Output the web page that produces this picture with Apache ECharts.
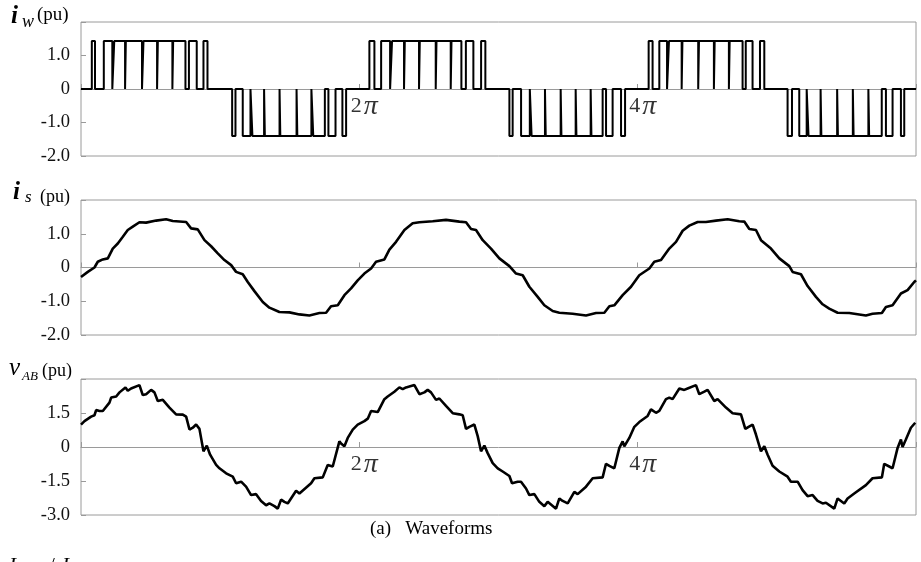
<!DOCTYPE html>
<html><head><meta charset="utf-8">
<script src="https://cdn.jsdelivr.net/npm/echarts@6/dist/echarts.min.js"></script>
<style>html,body{margin:0;padding:0;background:#fff;overflow:hidden}#c{width:921px;height:562px}</style>
</head><body><div id="c"></div>
<script>
// x in electrical degrees (0 .. 6π = 1080°)
const xTickLabels = [[360, '2'], [720, '4']];
const yLabelsCurrent = { '-2': '-2.0', '-1': '-1.0', '0': '0', '1': '1.0', '2': '' };
const yLabelsVoltage = { '-3': '-3.0', '-1.5': '-1.5', '0': '0', '1.5': '1.5', '3': '' };

// i_w : PWM current, [angle°, level from this angle on]
const iwData = [
  [0,0],[14.0,1.43],[18.1,0],[29.5,1.43],[40.5,0],[43.0,1.43],[57.0,0],[58.0,1.43],[78.9,0],[80.8,1.43],[98.4,0],[99.4,1.43],[118.2,0],[119.2,1.43],[135.1,0],[139.6,1.43],[149.7,0],[158.4,1.43],[163.6,0],
  [195.5,-1.4],[199.8,0],[209.2,-1.4],[219.2,0],[221.7,-1.4],[236.8,0],[237.8,-1.4],[256.8,0],[257.8,-1.4],[278.8,0],[279.8,-1.4],[298.0,0],[300.4,-1.4],[315.4,0],[320.0,-1.4],[329.2,0],[338.1,-1.4],[342.9,0],
  [373.0,1.43],[379.5,0],[388.2,1.43],[399.8,0],[402.3,1.43],[417.8,0],[418.8,1.43],[437.2,0],[438.2,1.43],[458.8,0],[459.8,1.43],[478.2,0],[479.2,1.43],[492.0,0],[497.8,1.43],[507.5,0],[517.5,1.43],[523.0,0],
  [554.1,-1.4],[558.3,0],[569.2,-1.4],[580.5,0],[582.8,-1.4],[600.1,0],[601.1,-1.4],[620.4,0],[621.4,-1.4],[639.8,0],[640.8,-1.4],[659.2,0],[660.2,-1.4],[674.7,0],[679.1,-1.4],[687.6,0],[698.5,-1.4],[703.7,0],
  [734.2,1.43],[739.3,0],[748.0,1.43],[758.0,0],[760.5,1.43],[776.9,0],[777.9,1.43],[798.3,0],[799.3,1.43],[818.6,0],[819.6,1.43],[838.0,0],[839.0,1.43],[855.7,0],[859.8,1.43],[868.6,0],[878.2,1.43],[883.8,0],
  [913.9,-1.4],[919.6,0],[929.0,-1.4],[938.6,0],[941.0,-1.4],[956.6,0],[957.6,-1.4],[978.0,0],[979.0,-1.4],[998.3,0],[999.3,-1.4],[1018.4,0],[1019.4,-1.4],[1035.7,0],[1041.1,-1.4],[1049.7,0],[1060.5,-1.4],[1064.8,0],[1080,0]
];

// i_s : supply current
const isData = [
  [0,-0.28],[8.8,-0.13],[17.4,0],[21.7,0.17],[28.2,0.24],[34.7,0.27],[41.1,0.56],[47.6,0.71],[54.1,0.91],[60.5,1.11],[67.0,1.21],[75.6,1.34],[84.2,1.33],[97.2,1.39],[110.1,1.43],[118.7,1.38],[136.0,1.35],[142.4,1.16],[151.0,1.13],[159.7,0.81],[168.3,0.63],[176.9,0.42],[185.5,0.22],[194.2,0.07],[200.6,-0.13],[209.2,-0.2],[215.7,-0.43],[224.3,-0.7],[235.1,-1.02],[243.7,-1.19],[256.6,-1.32],[269.6,-1.33],[282.5,-1.39],[295.4,-1.42],[308.4,-1.35],[317.0,-1.34],[323.4,-1.15],[332.1,-1.12],[340.7,-0.82],[349.3,-0.62],[357.9,-0.38],
  [366.5,-0.18],[375.2,-0.03],[381.6,0.17],[392.4,0.24],[398.9,0.53],[407.5,0.76],[418.3,1.11],[429.0,1.31],[437.7,1.34],[454.9,1.37],[472.1,1.41],[489.4,1.36],[498.0,1.34],[504.5,1.14],[510.9,1.11],[519.6,0.81],[530.3,0.56],[541.1,0.27],[554.1,0.04],[562.7,-0.18],[571.3,-0.23],[579.9,-0.57],[590.7,-0.87],[599.3,-1.12],[610.1,-1.29],[618.7,-1.34],[635.9,-1.37],[653.2,-1.42],[666.1,-1.35],[676.9,-1.34],[683.4,-1.15],[689.8,-1.12],[700.6,-0.82],[711.4,-0.57],
  [722.1,-0.23],[735.1,-0.03],[741.5,0.17],[750.2,0.22],[760.9,0.56],[769.6,0.76],[778.2,1.09],[786.8,1.24],[797.6,1.35],[808.3,1.35],[821.3,1.39],[836.4,1.43],[851.4,1.37],[857.9,1.36],[864.4,1.14],[873.0,1.11],[879.5,0.81],[892.4,0.56],[903.2,0.27],[916.1,0.04],[920.4,-0.13],[931.2,-0.2],[939.8,-0.55],[950.6,-0.87],[959.2,-1.09],[967.8,-1.22],[978.6,-1.34],[993.7,-1.35],[1015.2,-1.42],[1023.8,-1.37],[1035.9,-1.35],[1041.1,-1.17],[1049.7,-1.12],[1060.5,-0.77],[1069.1,-0.67],[1077.7,-0.43],[1080,-0.38]
];

// v_AB : line voltage
const vabData = [
  [0,0.99],[4.5,1.14],[13.1,1.34],[17.4,1.40],[19.6,1.63],[23.9,1.59],[28.2,1.59],[30.4,1.54],[36.8,1.96],[39.0,2.18],[45.5,2.23],[49.8,2.41],[57.5,2.63],[60.5,2.48],[64.8,2.58],[75.6,2.73],[79.9,2.29],[84.2,2.33],[90.7,2.52],[95.0,2.41],[99.3,2.03],[105.8,2.08],[114.4,1.74],[123.0,1.44],[131.7,1.43],[136.0,1.34],[140.3,0.77],[144.6,0.85],[148.9,0.99],[153.2,0.80],[158.4,-0.19],[162.7,0.06],[167.0,-0.34],[174.8,-0.79],[179.1,-0.94],[187.7,-1.16],[196.3,-1.31],[200.6,-1.60],[207.1,-1.53],[213.5,-1.75],[220.0,-2.12],[226.5,-2.08],[232.9,-2.38],[239.4,-2.57],[243.7,-2.49],[250.2,-2.61],[254.5,-2.72],[258.8,-2.32],[263.1,-2.42],[267.4,-2.49],[278.2,-1.93],[282.5,-2.05],[297.6,-1.60],[301.9,-1.38],[312.7,-1.34],[319.1,-0.79],[325.6,-0.86],[327.8,-0.94],[334.2,0.25],[336.4,0.15],[340.7,0.03],[345.0,0.40],[351.5,0.77],[357.9,0.99],
  [366.5,1.14],[370.9,1.25],[375.2,1.59],[383.8,1.54],[392.4,2.11],[396.7,2.23],[405.3,2.44],[411.8,2.63],[416.1,2.55],[420.4,2.63],[431.2,2.73],[437.7,2.33],[444.1,2.41],[448.4,2.52],[452.7,2.41],[459.2,2.08],[463.5,2.14],[472.1,1.81],[480.8,1.49],[489.4,1.44],[493.7,1.40],[498.0,0.80],[502.3,0.89],[508.8,0.99],[513.1,0.48],[517.4,-0.19],[521.7,0.06],[526.0,-0.27],[532.5,-0.71],[539.0,-0.94],[545.4,-1.08],[554.1,-1.28],[557.5,-1.60],[564.8,-1.53],[569.1,-1.53],[575.6,-1.83],[579.9,-2.12],[586.4,-2.08],[592.8,-2.42],[599.3,-2.61],[603.6,-2.42],[614.4,-2.72],[618.7,-2.27],[623.0,-2.38],[629.5,-2.49],[638.1,-1.98],[642.4,-2.08],[653.2,-1.75],[661.8,-1.38],[674.7,-1.34],[679.0,-0.74],[683.4,-0.83],[689.8,-0.94],[696.3,-0.04],[700.6,0.25],[702.7,0.03],[709.2,0.40],[715.7,0.89],
  [722.1,1.10],[732.9,1.37],[737.2,1.66],[743.7,1.51],[748.0,1.59],[756.6,2.11],[760.9,2.18],[765.2,2.11],[773.9,2.58],[780.3,2.52],[784.6,2.58],[795.4,2.73],[799.7,2.33],[806.2,2.44],[810.5,2.52],[819.1,2.03],[823.4,2.11],[834.2,1.74],[842.8,1.49],[853.6,1.44],[859.2,0.80],[863.5,0.89],[868.7,0.99],[873.0,0.55],[879.5,-0.19],[883.8,0.03],[888.1,-0.34],[894.5,-0.83],[903.2,-1.08],[913.9,-1.31],[918.2,-1.53],[926.9,-1.53],[933.3,-1.90],[939.8,-2.17],[946.3,-2.12],[952.7,-2.38],[959.2,-2.49],[963.5,-2.46],[974.3,-2.72],[978.6,-2.27],[987.2,-2.49],[991.5,-2.27],[1000.1,-2.05],[1002.3,-2.08],[1015.2,-1.68],[1023.8,-1.38],[1035.9,-1.34],[1038.9,-0.74],[1045.4,-0.86],[1049.7,-0.94],[1056.2,-0.04],[1060.5,0.33],[1062.6,0],[1066.9,0.33],[1073.4,0.85],[1079.0,1.07]
];

const SERIF = '"Liberation Serif", "DejaVu Serif", serif';
const GRAY = '#9a9a9a';

const grids = [
  { left: 81, top: 22, width: 835, height: 134 },
  { left: 81, top: 200, width: 835, height: 135 },
  { left: 81, top: 379, width: 835, height: 136 }
].map(g => Object.assign({ show: true, borderColor: GRAY, borderWidth: 1, containLabel: false }, g));

function xAxis(i) {
  return {
    type: 'value', gridIndex: i, min: 0, max: 1080, interval: 360,
    axisLine: { show: true, onZero: true, lineStyle: { color: GRAY, width: 1 } },
    axisTick: { show: true, inside: true, length: 5, lineStyle: { color: GRAY } },
    splitLine: { show: false },
    axisLabel: { show: false }
  };
}
function yAxis(i, min, max, interval, labels) {
  return {
    type: 'value', gridIndex: i, min: min, max: max, interval: interval,
    axisLine: { show: false },
    axisTick: { show: true, inside: true, length: 5, lineStyle: { color: GRAY } },
    splitLine: { show: false },
    axisLabel: {
      margin: 11, fontFamily: SERIF, fontSize: 18.5, color: '#111',
      formatter: v => labels[String(v)] !== undefined ? labels[String(v)] : ''
    }
  };
}
// "2π", "4π" labels sitting just under the zero line
function piLabels(i) {
  return {
    type: 'scatter', xAxisIndex: i, yAxisIndex: i, silent: true, symbolSize: 1,
    itemStyle: { color: 'rgba(0,0,0,0)' },
    data: xTickLabels.map(t => ({ value: [t[0], 0], name: t[1] })),
    label: {
      show: true, position: 'bottom', distance: 3, offset: [5, 0],
      formatter: p => '{n|' + p.name + '}{p|π}',
      rich: {
        n: { fontFamily: SERIF, fontSize: 22, color: '#000', padding: [0, 2, 0, 0] },
        p: { fontFamily: SERIF, fontSize: 28, fontStyle: 'italic', color: '#000' }
      }
    }
  };
}

function txt(x, y, text, font) {
  return { type: 'text', x: x, y: y, style: { text: text, font: font, fill: '#000' } };
}

const chart = echarts.init(document.getElementById('c'), null, { renderer: 'canvas' });
chart.setOption({
  animation: false,
  backgroundColor: '#fff',
  grid: grids,
  xAxis: [xAxis(0), xAxis(1), xAxis(2)],
  yAxis: [yAxis(0, -2, 2, 1, yLabelsCurrent), yAxis(1, -2, 2, 1, yLabelsCurrent), yAxis(2, -3, 3, 1.5, yLabelsVoltage)],
  series: [
    { type: 'line', xAxisIndex: 0, yAxisIndex: 0, data: iwData, step: 'end', symbol: 'none', lineStyle: { color: '#000', width: 2 } },
    { type: 'line', xAxisIndex: 1, yAxisIndex: 1, data: isData, symbol: 'none', lineStyle: { color: '#000', width: 2.6 } },
    { type: 'line', xAxisIndex: 2, yAxisIndex: 2, data: vabData, symbol: 'none', lineStyle: { color: '#000', width: 2.6 } },
    piLabels(0), piLabels(2)
  ],
  graphic: [
    txt(11, 4, 'i', 'italic bold 25px ' + SERIF),
    txt(22, 13, 'w', 'italic 18px ' + SERIF),
    txt(37, 6, '(pu)', '19px ' + SERIF),
    txt(13, 180, 'i', 'italic bold 25px ' + SERIF),
    txt(25, 189, 's', 'italic 17px ' + SERIF),
    txt(40, 188, '(pu)', '18px ' + SERIF),
    txt(9, 356, 'v', 'italic 25px ' + SERIF),
    txt(22, 370, 'AB', 'italic 13px ' + SERIF),
    txt(42, 362, '(pu)', '18px ' + SERIF),
    txt(370, 520, '(a)   Waveforms', '19px ' + SERIF),
    txt(9, 556, 'I', 'italic 21px ' + SERIF),
    txt(49, 556, '/', '21px ' + SERIF),
    txt(62, 556, 'I', 'italic 21px ' + SERIF)
  ]
});
</script>
</body></html>
